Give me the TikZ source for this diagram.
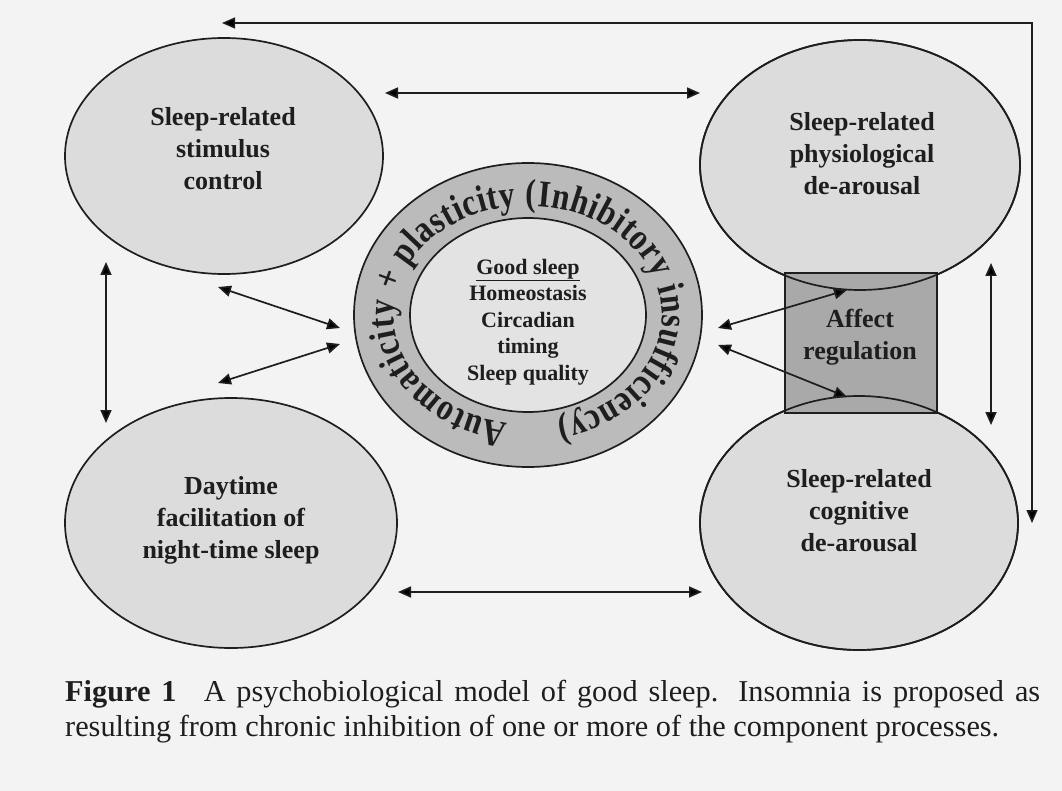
\documentclass[tikz,border=0pt]{standalone}
\usepackage{fontspec}
\setmainfont{Liberation Serif}
\newfontfamily\ringfam[FakeStretch=0.84]{Liberation Serif}
\usetikzlibrary{shapes.geometric,arrows.meta,decorations.text}

\definecolor{paper}{HTML}{F3F3F3}
\definecolor{blobfill}{HTML}{DCDCDC}
\definecolor{ringfill}{HTML}{BBBBBB}
\definecolor{corefill}{HTML}{E3E3E3}
\definecolor{affectfill}{HTML}{A9A9A9}
\definecolor{ink}{HTML}{1E1E1E}

\newcommand{\ringfont}{\ringfam\bfseries\fontsize{38}{38}\selectfont}

\begin{document}
\begin{tikzpicture}[x=1pt,y=-1pt,
  blob/.style={ellipse,draw=ink,line width=1.7pt,fill=blobfill,inner sep=0pt},
  lbl/.style={font=\bfseries\fontsize{26}{32}\selectfont,align=center,text=ink,inner sep=0pt},
  arr/.style={{Triangle[length=13pt,width=11pt]}-{Triangle[length=13pt,width=11pt]},line width=1.7pt,draw=ink},
  feedback/.style={{Triangle[length=13pt,width=11pt]}-{Triangle[length=13pt,width=11pt]},line width=1.4pt,draw=ink},
]
% page
\fill[paper] (0,0) rectangle (1062,791);
\useasboundingbox (0,0) rectangle (1062,791);

% the four component processes
\node[blob,minimum width=318pt,minimum height=236pt] (stim) at (224,156) {};
\node[blob,minimum width=320pt,minimum height=250pt] (phys) at (860,165) {};
\node[blob,minimum width=332pt,minimum height=250pt] (day)  at (231,523) {};
\node[blob,minimum width=318pt,minimum height=254pt] (cog)  at (859,523) {};

% affect regulation bridges the two de-arousal processes
\node[draw=ink,line width=1.7pt,fill=affectfill,minimum width=152pt,minimum height=140pt,inner sep=0pt] (affect) at (861,343) {};
\draw[ink,line width=1.7pt] (phys.center) ellipse[x radius=160,y radius=125];
\draw[ink,line width=1.7pt] (cog.center) ellipse[x radius=159,y radius=127];

% central ring
\node[ellipse,draw=ink,line width=1.7pt,fill=ringfill,minimum width=348pt,minimum height=304pt,inner sep=0pt] (ring) at (528,315) {};
\node[ellipse,draw=ink,line width=1.7pt,fill=corefill,minimum width=236pt,minimum height=194pt,inner sep=0pt] (core) at (528,315) {};
\path[decorate,decoration={text along path,
    text={|\ringfont|Automaticity + plasticity (Inhibitory insufficiency)},
    text align={fit to path},text color=ink}]
  (ring.center) ++(-261.3:134 and 109) arc[start angle=-261.3,end angle=77.5,x radius=134,y radius=109];

% labels
\node[lbl] (stimtxt) at (223,149) {Sleep-related\\stimulus\\control};
\node[lbl] (phystxt) at (862,154) {Sleep-related\\physiological\\de-arousal};
\node[lbl] (daytxt)  at (231,520) {Daytime\\facilitation of\\night-time sleep};
\node[lbl] (cogtxt)  at (859,511) {Sleep-related\\cognitive\\de-arousal};
\node[lbl] (affecttxt) at (860,337) {Affect\\regulation};
\node[font=\bfseries\fontsize{22}{26.5}\selectfont,align=center,text=ink,inner sep=0pt] (coretxt) at (528,322)
  {\underline{Good sleep}\\Homeostasis\\Circadian\\timing\\Sleep quality};

% connector end points
\coordinate (tA) at (385,93);   \coordinate (tB) at (700,93);
\coordinate (bA) at (398,592);  \coordinate (bB) at (702,592);
\coordinate (lA) at (106,262);  \coordinate (lB) at (106,423);
\coordinate (rA) at (991,263);  \coordinate (rB) at (991,425);
\coordinate (ld1) at (218,287); \coordinate (lc1) at (340,328);
\coordinate (ld2) at (218,383); \coordinate (lc2) at (340,344);
\coordinate (rc1) at (718,328); \coordinate (ra1) at (847,290);
\coordinate (rc2) at (718,345); \coordinate (ra2) at (847,397);
\coordinate (fbStart) at (222,23); \coordinate (fbCorner) at (1032,23); \coordinate (fbEnd) at (1032,523);

% connectors
\draw[arr] (tA) -- (tB);
\draw[arr] (bA) -- (bB);
\draw[arr] (lA) -- (lB);
\draw[arr] (rA) -- (rB);
\draw[arr] (ld1) -- (lc1);
\draw[arr] (ld2) -- (lc2);
\draw[arr] (rc1) -- (ra1);
\draw[arr] (rc2) -- (ra2);
\draw[feedback] (fbStart) -- (fbCorner) -- (fbEnd);

% caption
\node[anchor=north west,text width=975pt,align=justify,inner sep=0pt,text=ink,
      font=\fontsize{30.3}{35}\selectfont] (caption) at (65,680)
  {{\bfseries Figure 1}\hspace{0.9em}A psychobiological model of good sleep. Insomnia is proposed as\linebreak
   resulting from chronic inhibition of one or more of the component processes.};
\end{tikzpicture}
\end{document}
